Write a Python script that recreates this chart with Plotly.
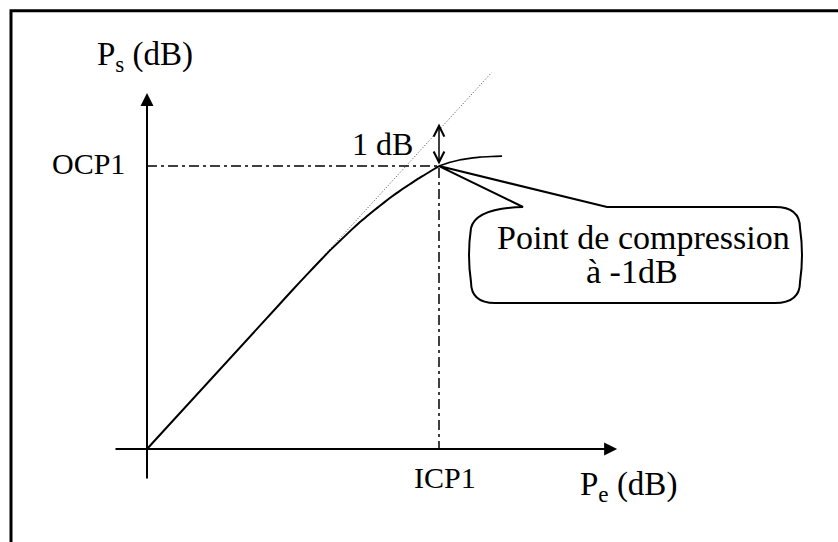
import plotly.graph_objects as go

# --- data (schematic units, dB) ---
pe_curve = [0, 4.5, 5.0, 5.5, 6.0, 6.25, 6.5, 6.75, 7.0, 7.25, 7.5, 7.75, 8.0,
            8.25, 8.5, 8.75, 9.0, 9.25, 9.5, 9.75, 10.0]
ps_curve = [0, 4.5, 5.0, 5.49, 5.97, 6.21, 6.43, 6.65, 6.87, 7.08, 7.27, 7.46, 7.64,
            7.82, 7.99, 8.15, 8.30, 8.45, 8.59, 8.73, 8.87]
pe_sat = [10.0, 10.35, 10.7, 11.05, 11.4, 11.8, 12.16]
ps_sat = [8.87, 8.98, 9.06, 9.11, 9.15, 9.17, 9.18]
pe_lin = [0, 11.8]
ps_lin = [0, 11.8]
ICP1 = 10.0
OCP1 = 8.87
LIN_AT_ICP1 = 10.2
x_axis = [-1.13, 16.1]
y_axis = [-0.97, 11.16]

W, H = 838, 542
X0, Y0, SX, SY = 147, 449, 29.2, 31.9   # origin pixel and px per unit


def p2d(px, py):
    return (px - X0) / SX, (Y0 - py) / SY


FONT = "Liberation Serif, Times New Roman, Times, DejaVu Serif, serif"

fig = go.Figure()

# droite linéaire (pointillés)
fig.add_trace(go.Scatter(x=pe_lin, y=ps_lin, mode="lines",
                         line=dict(color="#444", width=1, dash="1px,2px")))
# courbe de compression
fig.add_trace(go.Scatter(x=pe_curve, y=ps_curve, mode="lines",
                         line=dict(color="black", width=2, shape="spline", smoothing=0.5)))
fig.add_trace(go.Scatter(x=pe_sat, y=ps_sat, mode="lines",
                         line=dict(color="black", width=1.6, shape="spline", smoothing=0.6)))
# traits mixtes vers OCP1 / ICP1
fig.add_trace(go.Scatter(x=[0, ICP1, ICP1], y=[OCP1, OCP1, 0], mode="lines",
                         line=dict(color="black", width=1.5, dash="10px,4px,3px,4px")))

# bulle
tip = (ICP1, OCP1)
pts = {
    "a": p2d(523, 207), "b": p2d(607, 207), "c": p2d(775, 207),
    "c1": p2d(800, 207), "d": p2d(800, 228), "d1": p2d(804, 255), "e": p2d(800, 282),
    "e1": p2d(800, 303), "f": p2d(775, 303), "g": p2d(495, 303),
    "g1": p2d(471, 303), "h": p2d(471, 282), "h1": p2d(467, 255), "i": p2d(471, 228),
    "i1": p2d(476, 208),
}


def s(p):
    return f"{p[0]:.3f},{p[1]:.3f}"


path = (f"M{s(pts['a'])} L{s(tip)} L{s(pts['b'])} L{s(pts['c'])} "
        f"Q{s(pts['c1'])} {s(pts['d'])} Q{s(pts['d1'])} {s(pts['e'])} "
        f"Q{s(pts['e1'])} {s(pts['f'])} L{s(pts['g'])} "
        f"Q{s(pts['g1'])} {s(pts['h'])} Q{s(pts['h1'])} {s(pts['i'])} "
        f"Q{s(pts['i1'])} {s(pts['a'])} Z")
fig.add_shape(type="path", path=path, xref="x", yref="y",
              line=dict(color="black", width=2), fillcolor="white", layer="above")

# cadre
fig.add_shape(type="rect", xref="paper", yref="paper",
              x0=11 / W, x1=1.05, y0=-0.05, y1=1 - 10.7 / H,
              line=dict(color="black", width=3))

ann = []
# axes avec flèches
ann.append(dict(x=x_axis[1], y=0, ax=x_axis[0], ay=0, axref="x", ayref="y",
                text="", showarrow=True, arrowhead=2, arrowsize=1.3, arrowwidth=2,
                arrowcolor="black"))
ann.append(dict(x=0, y=y_axis[1], ax=0, ay=y_axis[0], axref="x", ayref="y",
                text="", showarrow=True, arrowhead=2, arrowsize=1.3, arrowwidth=2,
                arrowcolor="black"))
# double flèche 1 dB
ann.append(dict(x=ICP1, y=LIN_AT_ICP1, ax=ICP1, ay=OCP1, axref="x", ayref="y",
                text="", showarrow=True, arrowhead=5, startarrowhead=5,
                arrowside="end+start", arrowsize=1.4, startarrowsize=1.4,
                arrowwidth=1.5, arrowcolor="black"))

txt = dict(showarrow=False, font=dict(family=FONT, size=30, color="black"))
big = dict(showarrow=False, font=dict(family=FONT, size=33, color="black"))
ann.append(dict(x=8.08, y=9.55, text="1 dB", xanchor="center", yanchor="middle",
                showarrow=False, font=dict(family=FONT, size=32, color="black")))
ann.append(dict(x=-0.68, y=OCP1, yshift=3, text="OCP1", xanchor="right", yanchor="middle", **txt))
ann.append(dict(x=ICP1, xshift=6, y=-0.88, text="ICP1", xanchor="center", yanchor="middle", **txt))
ann.append(dict(x=14.76, y=-1.16, text="P<sub>e</sub> (dB)", xanchor="left", yanchor="middle", **big))
ann.append(dict(x=-1.78, y=12.29, text="P<sub>s</sub> (dB)", xanchor="left", yanchor="middle", **big))

btxt = dict(showarrow=False, font=dict(family=FONT, size=34, color="black"))
ann.append(dict(x=p2d(643, 0)[0], y=p2d(0, 237)[1], text="Point de compression",
                xanchor="center", yanchor="middle", **btxt))
ann.append(dict(x=p2d(632, 0)[0], y=p2d(0, 271)[1], text="à -1dB",
                xanchor="center", yanchor="middle", **btxt))

fig.update_layout(
    width=W, height=H,
    margin=dict(l=0, r=0, t=0, b=0),
    paper_bgcolor="white", plot_bgcolor="white",
    showlegend=False,
    xaxis=dict(visible=False, range=[-X0 / SX, (W - X0) / SX], fixedrange=True),
    yaxis=dict(visible=False, range=[-(H - Y0) / SY, Y0 / SY], fixedrange=True),
    annotations=ann,
)

fig.write_html("out.html", config={"displayModeBar": False},
               post_script="document.body.style.margin='0';")
